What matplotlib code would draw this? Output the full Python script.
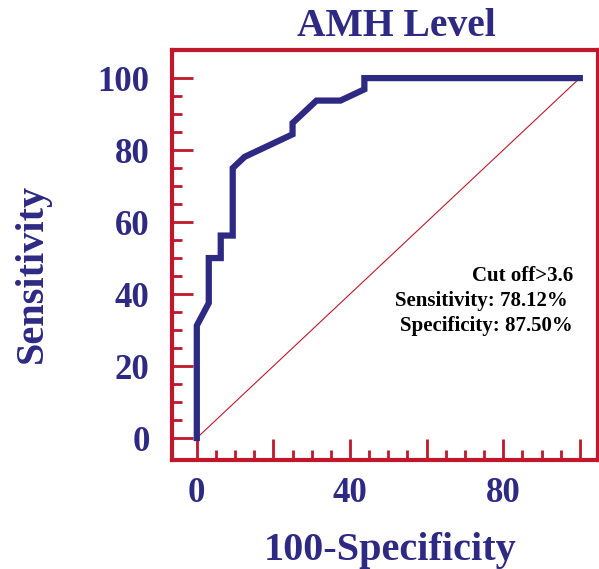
import matplotlib
matplotlib.use("Agg")
import matplotlib.pyplot as plt

# ROC points (100-Specificity, Sensitivity)
fpr = [0, 0, 3.125, 3.125, 6.25, 6.25, 9.375, 9.375, 12.5, 25, 25, 31.25, 37.5, 43.75, 43.75, 100]
tpr = [0, 31.25, 37.5, 50, 50, 56.25, 56.25, 75, 78.125, 84.375, 87.5, 93.75, 93.75, 96.875, 100, 100]
ref_line = [0, 100]

x_ticks = [0, 20, 40, 60, 80, 100]
x_labels = ["0", "", "40", "", "80", ""]
y_ticks = [0, 20, 40, 60, 80, 100]
y_labels = ["0", "20", "40", "60", "80", "100"]
note_lines = ["Cut off>3.6", "Sensitivity: 78.12% ", "Specificity: 87.50%"]

blue = "#2e2a84"
red = "#c0182a"
font = "Liberation Serif"

fig = plt.figure(figsize=(5.99, 5.69), dpi=100)
ax = fig.add_axes([0.287, 0.1916, 0.711, 0.7205])

ax.plot(ref_line, ref_line, color=red, lw=0.8)
ax.plot(fpr, tpr, color=blue, lw=4.5, solid_joinstyle="miter")

ax.set_xlim(-6.5, 104.7)
ax.set_ylim(-6.1, 107.8)

for s in ax.spines.values():
    s.set_color(red)
    s.set_linewidth(3)

ax.set_xticks(x_ticks)
ax.set_xticklabels(x_labels)
ax.set_yticks(y_ticks)
ax.set_yticklabels(y_labels)
ax.set_xticks([v for v in range(5, 100, 5) if v % 20], minor=True)
ax.set_yticks([v for v in range(5, 100, 5) if v % 20], minor=True)

ax.tick_params(which="major", direction="in", length=15, width=2, color=red)
ax.tick_params(which="minor", direction="in", length=7.5, width=2, color=red)
ax.tick_params(axis="y", which="major", pad=16)
ax.tick_params(axis="x", which="major", pad=12)
for lab in ax.get_xticklabels() + ax.get_yticklabels():
    lab.set_fontfamily(font)
    lab.set_fontweight("bold")
    lab.set_fontsize(25)
    lab.set_color(blue)

ax.set_title("AMH Level", fontfamily=font, fontweight="bold", fontsize=28.5,
             color=blue, pad=10, x=0.526)
ax.set_xlabel("100-Specificity", fontfamily=font, fontweight="bold", fontsize=29,
              color=blue, labelpad=16)
ax.xaxis.label.set_x(0.512)
ax.set_ylabel("Sensitivity", fontfamily=font, fontweight="bold", fontsize=29,
              color=blue)
ax.yaxis.set_label_coords(-0.285, 0.455)

for i, line in enumerate(note_lines):
    ax.text(98.2, 45 - i * 6.9, line, ha="right", va="center",
            fontfamily=font, fontweight="bold", fontsize=15, color="black")

fig.savefig("out.png", dpi=100)
